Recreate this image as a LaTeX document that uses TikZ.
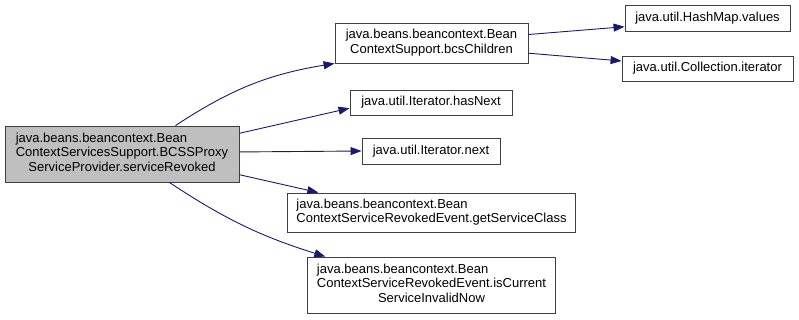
\documentclass[tikz,border=0pt]{standalone}
\usepackage{fontspec}
\setmainfont{Liberation Sans}
\usepackage{xcolor}
\usepackage{tikz}
\usetikzlibrary{positioning,arrows.meta}

\definecolor{edgeblue}{HTML}{191970}
\definecolor{boxline}{HTML}{404040}
\definecolor{mainfill}{HTML}{BFBFBF}

% first lines flush left, last line centred
\newcommand{\fnlabel}[2]{\begin{tabular}{@{}l@{}}#1\\\multicolumn{1}{@{}c@{}}{#2}\end{tabular}}

\tikzset{
  fnbox/.style={draw=boxline, fill=white, line width=0.9pt, inner sep=0pt, font=\fontsize{13}{14.5}\selectfont},
  callarrow/.style={draw=edgeblue, line width=0.9pt, -{Triangle[length=11pt,width=8pt]}}
}

\begin{document}
\begin{tikzpicture}[x=1pt, y=-1pt]
    \useasboundingbox (0,0) rectangle (799,319);
    % Caller
    \node[fnbox, fill=mainfill, minimum width=234pt, minimum height=56pt] (main) at (122,154)
        {\fnlabel{java.beans.beancontext.Bean\\ContextServicesSupport.BCSSProxy}{ServiceProvider.serviceRevoked}};
    % Callees
    \node[fnbox, minimum width=193pt, minimum height=40pt] (bcs) at (431.5,43)
        {\fnlabel{java.beans.beancontext.Bean}{ContextSupport.bcsChildren}};
    \node[fnbox, minimum width=165pt, minimum height=26pt] (hashvalues) at (707.5,18) {java.util.HashMap.values};
    \node[fnbox, minimum width=171pt, minimum height=25pt] (colliter) at (707.5,68.5) {java.util.Collection.iterator};
    \node[fnbox, minimum width=162pt, minimum height=25pt] (hasnext) at (431,102.5) {java.util.Iterator.hasNext};
    \node[fnbox, minimum width=138pt, minimum height=26pt] (itnext) at (431,151) {java.util.Iterator.next};
    \node[fnbox, minimum width=288pt, minimum height=39pt] (getclass) at (431.5,212.5)
        {\fnlabel{java.beans.beancontext.Bean}{ContextServiceRevokedEvent.getServiceClass}};
    \node[fnbox, minimum width=248pt, minimum height=56pt] (isvalid) at (431.5,285)
        {\fnlabel{java.beans.beancontext.Bean\\ContextServiceRevokedEvent.isCurrent}{ServiceInvalidNow}};
    % Calls
    \draw[callarrow] (main.28) to[bend left=12] (bcs.south west);
    \draw[callarrow] (main.10) -- (hasnext.184);
    \draw[callarrow] (main.1) -- (itnext.west);
    \draw[callarrow] (main.-10) -- (getclass.170);
    \draw[callarrow] (main.-31) to[bend right=8] (isvalid.165);
    \draw[callarrow] (bcs.5) -- (hashvalues.186);
    \draw[callarrow] (bcs.-6) -- (colliter.175);
\end{tikzpicture}
\end{document}
